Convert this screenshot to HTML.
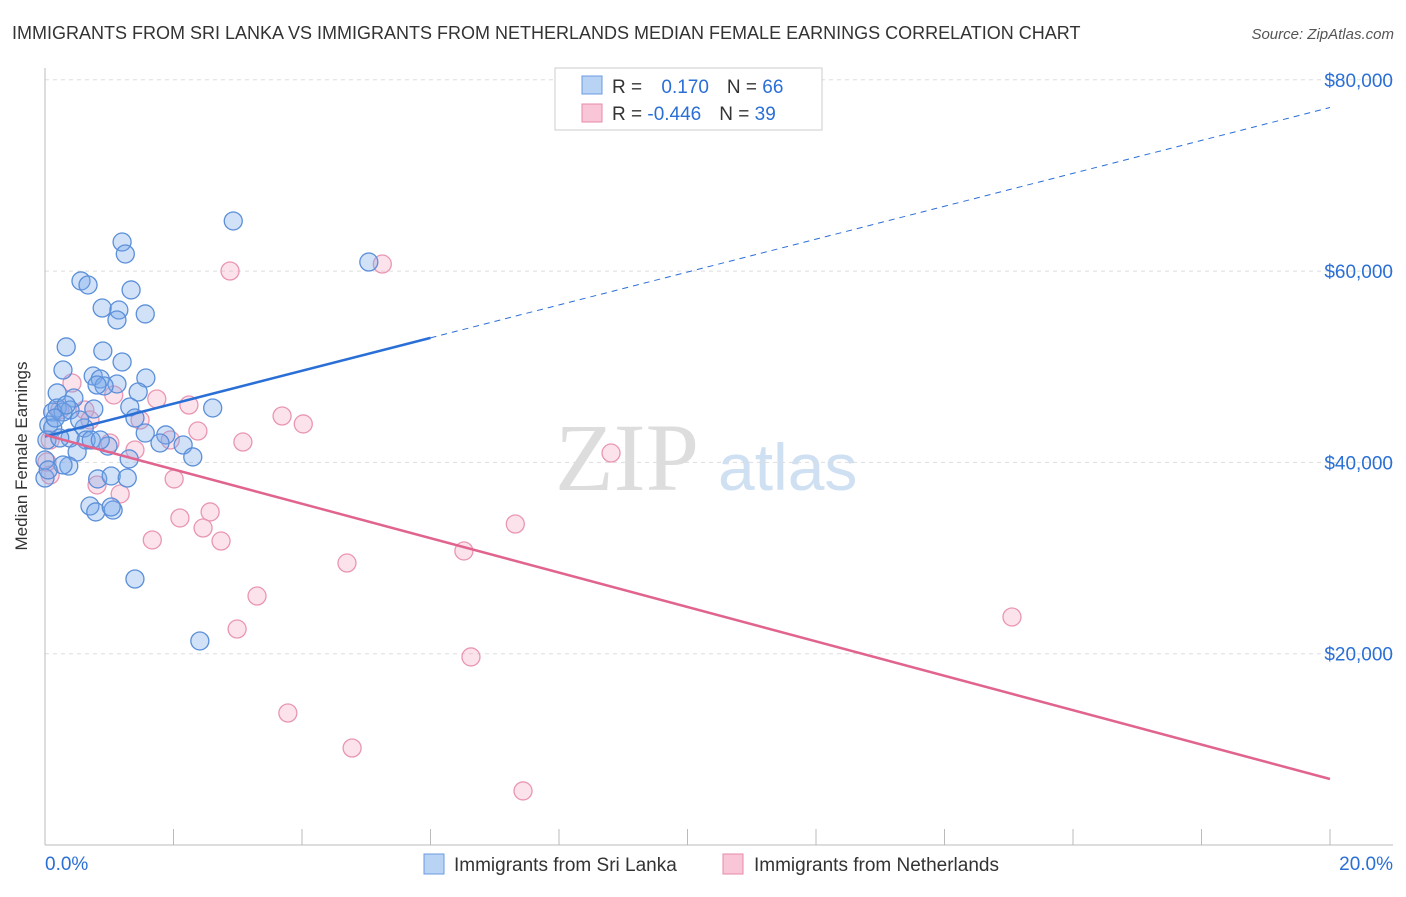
<!DOCTYPE html>
<html><head><meta charset="utf-8"><style>
body{margin:0;background:#fff;font-family:"Liberation Sans",sans-serif}
</style></head><body>
<svg width="1406" height="892" xmlns="http://www.w3.org/2000/svg" style="font-family:'Liberation Sans',sans-serif">
<text x="12" y="39" font-size="18" fill="#333">IMMIGRANTS FROM SRI LANKA VS IMMIGRANTS FROM NETHERLANDS MEDIAN FEMALE EARNINGS CORRELATION CHART</text>
<text x="1394" y="39" font-size="15" fill="#555" text-anchor="end" font-style="italic">Source: ZipAtlas.com</text>
<g>
<text x="555" y="490" font-size="96" fill="#ddd" font-family="Liberation Serif">ZIP</text>
<text x="718" y="490" font-size="66" fill="#cfe0f3">atlas</text>
</g>
<g id="grid"></g>
<g id="axes"></g>
<g id="marks"></g>
<text x="27" y="456" font-size="17" fill="#333" text-anchor="middle" transform="rotate(-90 27 456)">Median Female Earnings</text>
<g>
<rect x="555" y="68" width="267" height="62" fill="#fff" stroke="#ccc"/>
<rect x="582" y="76" width="20" height="18" fill="#b8d3f3" stroke="#6a9be0"/>
<rect x="582" y="104" width="20" height="18" fill="#f8c6d6" stroke="#e88aa8"/>
<text x="612" y="93" font-size="19" fill="#333">R = <tspan fill="#2a6fd6" dx="14">0.170</tspan><tspan dx="18" fill="#333">N = </tspan><tspan fill="#2a6fd6">66</tspan></text>
<text x="612" y="120" font-size="19" fill="#333">R = <tspan fill="#2a6fd6">-0.446</tspan><tspan dx="18" fill="#333">N = </tspan><tspan fill="#2a6fd6">39</tspan></text>
</g>
<g>
<rect x="424" y="854" width="20" height="20" fill="#b8d3f3" stroke="#6a9be0"/>
<text x="454" y="871" font-size="19" fill="#333">Immigrants from Sri Lanka</text>
<rect x="723" y="854" width="20" height="20" fill="#f8c6d6" stroke="#e88aa8"/>
<text x="754" y="871" font-size="19" fill="#333">Immigrants from Netherlands</text>
</g>
</svg>
<script>
const yTicks=[20000,40000,60000,80000];
const yTickLabels=["$20,000","$40,000","$60,000","$80,000"];
const xTicks=[0,2,4,6,8,10,12,14,16,18,20];
const xEndLabels=["0.0%","20.0%"];
const blueX=[1.20,1.25,2.93,5.04,0.56,0.67,0.89,1.34,1.15,1.12,1.56,0.33,0.90,1.20,0.28,0.75,0.86,1.57,1.12,0.92,0.19,1.45,0.45,0.19,0.39,1.32,2.61,0.76,0.28,0.12,0.06,0.12,0.61,1.40,1.56,0.64,0.39,0.72,1.88,1.79,2.15,0.98,2.30,0.50,1.31,0.00,0.37,0.00,0.82,1.03,1.28,0.70,0.79,1.06,1.03,1.40,2.41,0.03,0.23,0.86,0.28,0.16,0.54,0.33,0.81,0.05];
const blueY=[63040,61790,65240,60950,58970,58550,56140,58030,55930,54890,55520,52070,51650,50500,49660,49030,48720,48820,48200,47990,47260,47360,46730,45690,45480,45790,45690,45580,45270,45270,43910,43600,43600,44640,43070,42340,42550,42340,42870,42030,41820,41710,40570,41090,40360,40250,39620,38370,38270,38580,38370,35440,34820,35020,35340,27810,21330,42340,42550,42340,39730,44640,44430,46000,48090,39210];
const pinkX=[2.88,5.25,0.42,1.74,2.24,3.69,4.02,1.07,2.38,3.08,1.95,1.40,1.01,8.81,2.01,0.81,1.17,2.10,2.57,2.46,2.74,1.67,7.32,6.52,4.70,3.30,2.99,6.63,15.05,3.78,4.78,7.44,0.08,0.03,0.23,0.62,0.08,0.70,1.48];
const pinkY=[60010,60740,48300,46630,46000,44850,44020,47050,43280,42130,42340,41300,42030,40980,38270,37640,36700,34190,34820,33140,31780,31890,33560,30740,29480,26030,22580,19660,23840,13800,10140,5650,38680,40040,45480,45480,42340,44430,44430];
const blueTrend=[42700,77100];
const pinkTrend=[42870,6900];
const NS="http://www.w3.org/2000/svg";
const X=v=>45+v/20*1285;
const Y=v=>845-v/20000*191.3;
function mk(t,a,p){const e=document.createElementNS(NS,t);for(const k in a)e.setAttribute(k,a[k]);p.appendChild(e);return e;}
const grid=document.getElementById('grid'),axes=document.getElementById('axes'),marks=document.getElementById('marks');
yTicks.forEach((t,i)=>{
 const l=mk('line',{x1:45,x2:1393,y1:Y(t),y2:Y(t),stroke:'#ddd','stroke-dasharray':'4,4'},grid);
 
 
 const tx=mk('text',{x:1393,y:Y(t)+7,'font-size':19,fill:'#2a6fd6','text-anchor':'end'},axes);
 tx.textContent=yTickLabels[i];
 
 
});
const ax=mk('line',{x1:45,x2:1393,y1:845,y2:845,stroke:'#bbb'},axes);


const ay=mk('line',{x1:45,x2:45,y1:68,y2:845,stroke:'#bbb'},axes);


xTicks.forEach(t=>{
 const l=mk('line',{x1:X(t),x2:X(t),y1:829,y2:845,stroke:'#bbb'},axes);
 
 
});
[[0,'start',45],[20,'end',1393]].forEach((d,i)=>{
 const tx=mk('text',{x:d[2],y:870,'font-size':19,fill:'#2a6fd6','text-anchor':d[1]},axes);
 tx.textContent=xEndLabels[i];
 
 
});
function dots(xs,ys,fill,stroke,name){xs.forEach((x,i)=>{
 const c=mk('circle',{cx:X(x),cy:Y(ys[i]),r:9,fill:fill,stroke:stroke,'stroke-width':1.3},marks);
 
 
});}
dots(pinkX,pinkY,'rgba(244,160,190,0.3)','#e996b2','netherlands-point');
dots(blueX,blueY,'rgba(120,170,235,0.35)','#5b8fd9','sri-lanka-point');
const by=x=>blueTrend[0]+(blueTrend[1]-blueTrend[0])*x/20;
const l1=mk('line',{x1:X(0),y1:Y(by(0)),x2:X(6),y2:Y(by(6)),stroke:'#2a6fd6','stroke-width':2.5},marks);


const l2=mk('line',{x1:X(6),y1:Y(by(6)),x2:X(20),y2:Y(by(20)),stroke:'#2a6fd6','stroke-width':1,'stroke-dasharray':'6,5'},marks);


const l3=mk('line',{x1:X(0),y1:Y(pinkTrend[0]),x2:X(20),y2:Y(pinkTrend[1]),stroke:'#e0648e','stroke-width':2.5},marks);


</script>
</body></html>
